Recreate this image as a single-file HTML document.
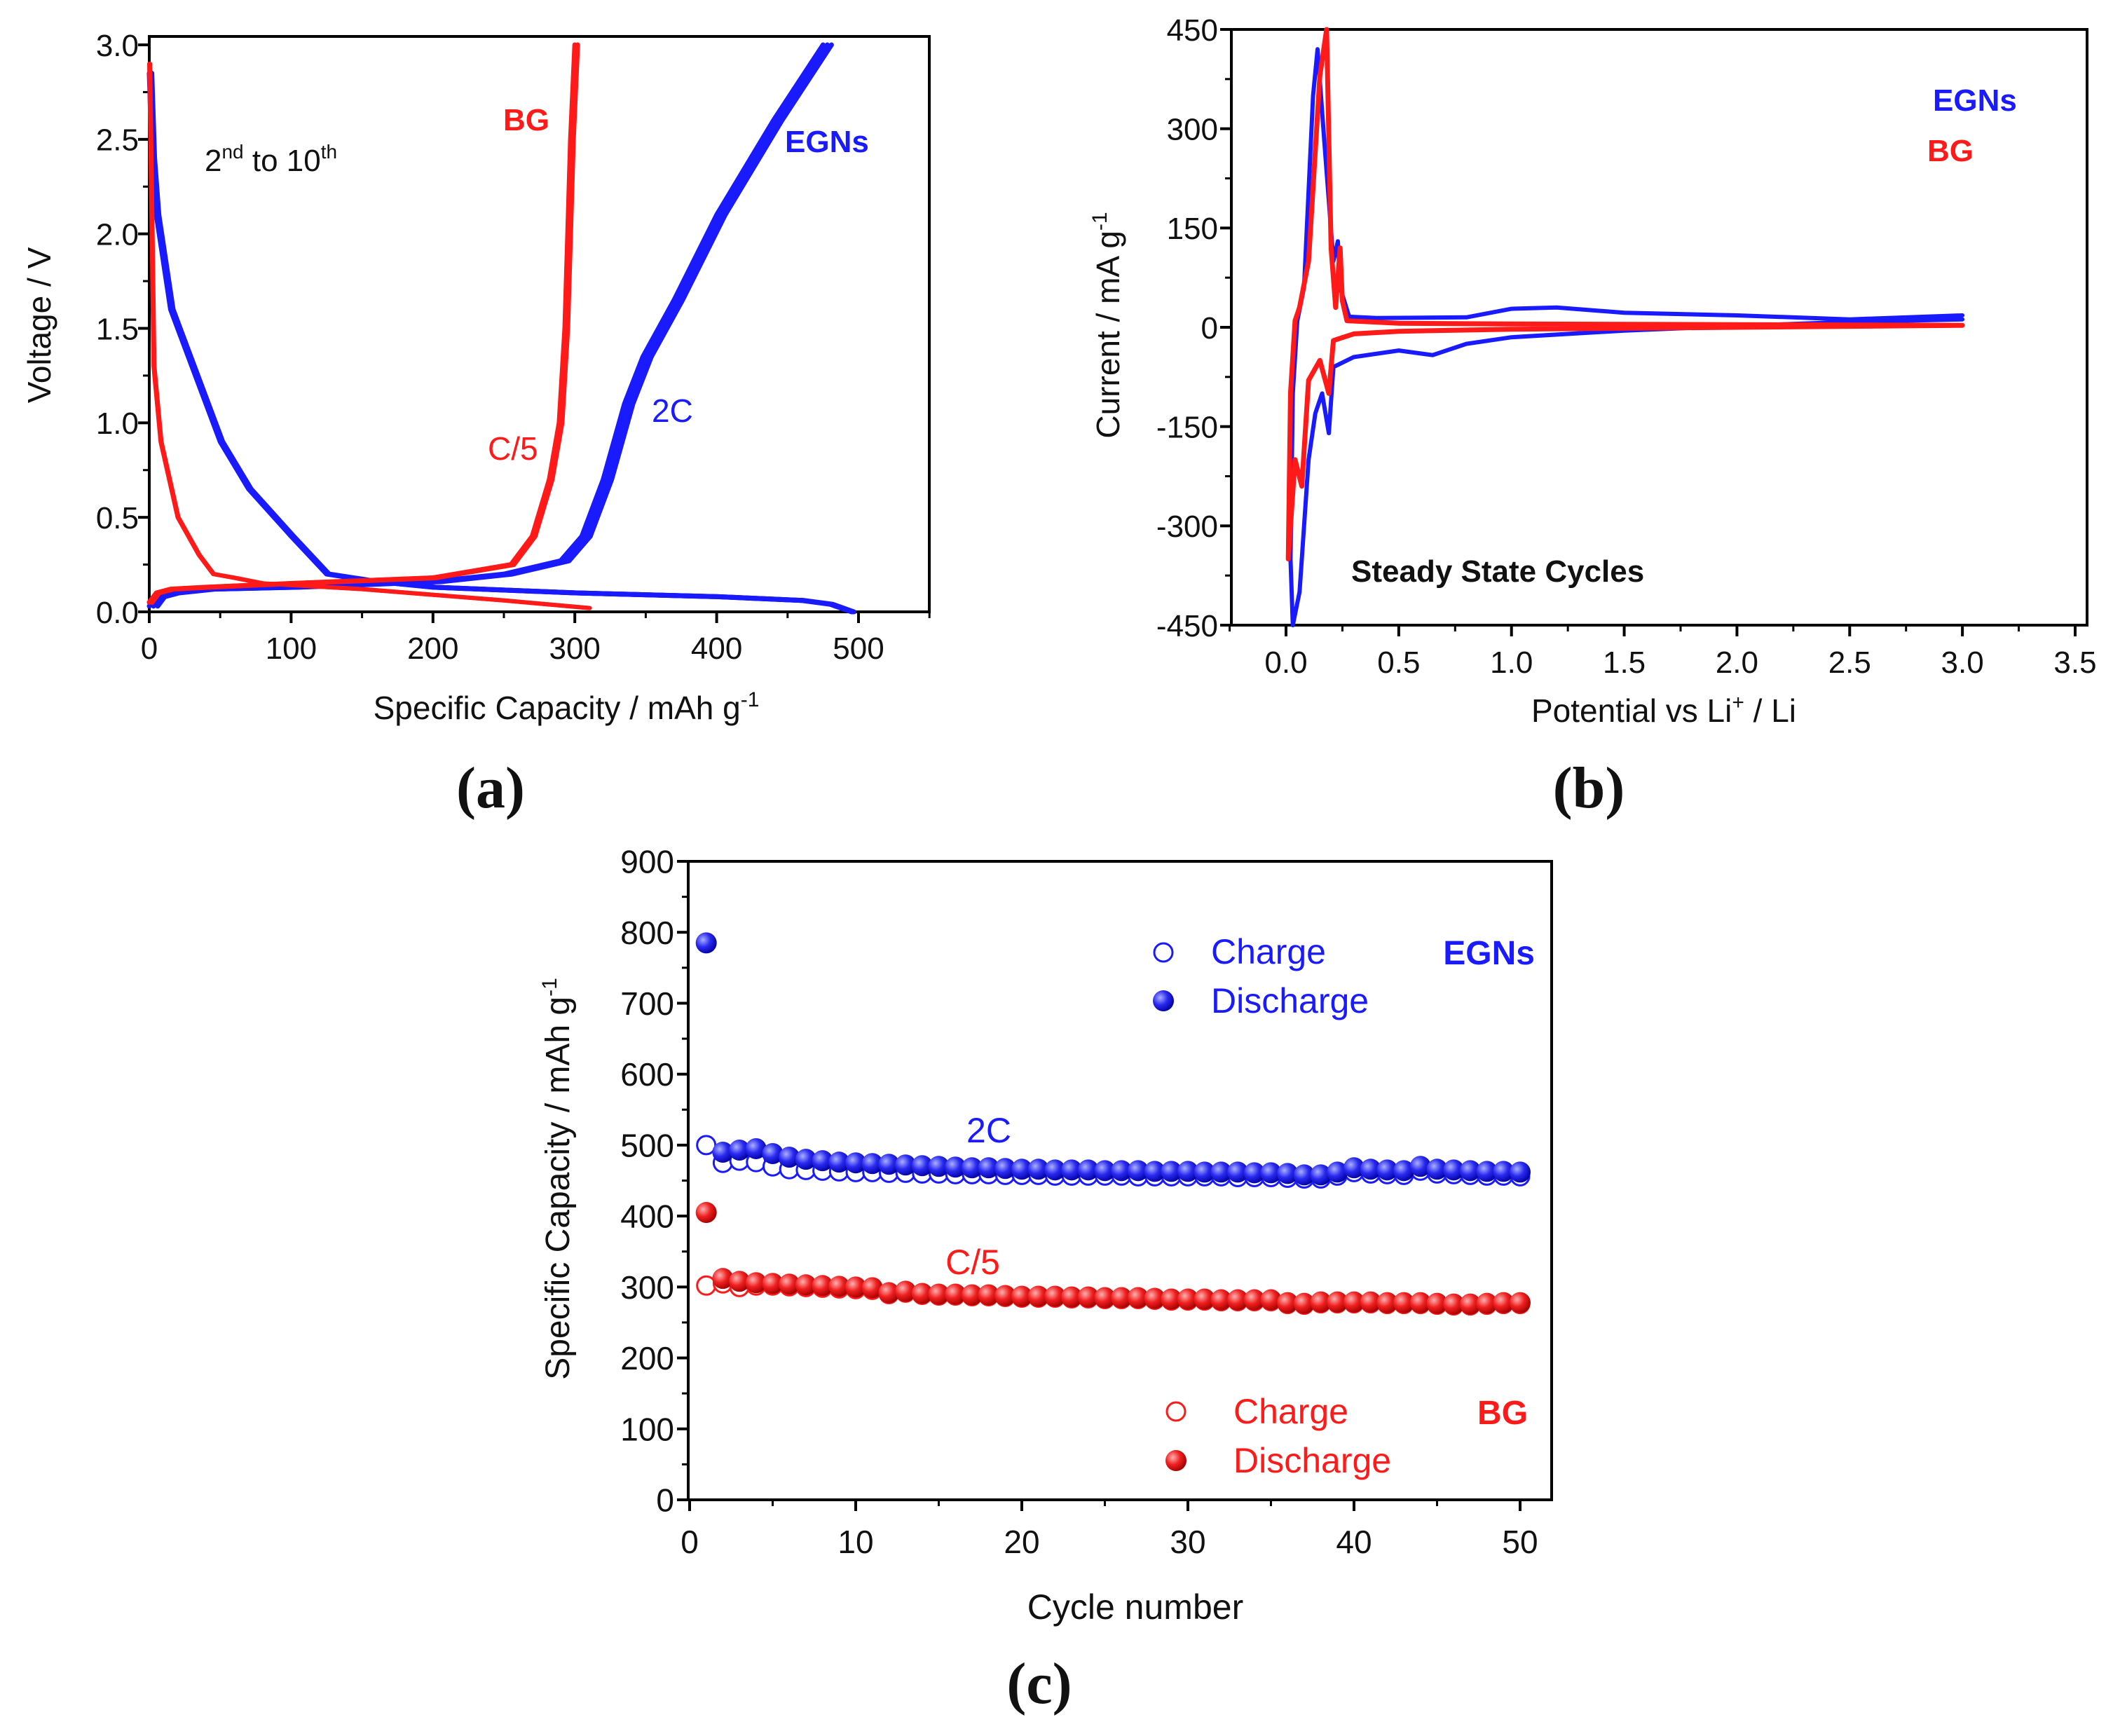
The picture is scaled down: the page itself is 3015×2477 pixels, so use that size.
<!DOCTYPE html>
<html><head><meta charset="utf-8">
<style>
html,body{margin:0;padding:0;background:#fff;}
svg{display:block;}
text{font-family:"Liberation Sans",sans-serif;}
</style></head>
<body>
<svg id="fig" width="3015" height="2477" viewBox="0 0 3015 2477" xmlns="http://www.w3.org/2000/svg">
<defs>
<radialGradient id="gb" cx="0.35" cy="0.35" r="0.7"><stop offset="0" stop-color="#aab0ff"/><stop offset="0.5" stop-color="#2a2af0"/><stop offset="1" stop-color="#0000a0"/></radialGradient>
<radialGradient id="gr" cx="0.35" cy="0.35" r="0.7"><stop offset="0" stop-color="#ffb0b0"/><stop offset="0.5" stop-color="#f02020"/><stop offset="1" stop-color="#a00000"/></radialGradient>
</defs>
<g id="pa"></g>
<g id="pb"></g>
<g id="pc"></g>
</svg>
<script>
// Panel A data (capacity mAh/g, voltage V)
const aBlueDisCap=[0,2,5,15,30,50,70,100,125,160,200,300,400,460,480,495];
const aBlueDisV=[2.85,2.4,2.1,1.6,1.3,0.9,0.65,0.4,0.2,0.16,0.13,0.1,0.08,0.06,0.04,0.0];
const aBlueChCap=[0,5,15,40,100,200,250,290,305,320,335,348,370,400,440,475];
const aBlueChV=[0.03,0.08,0.1,0.12,0.13,0.16,0.2,0.27,0.4,0.7,1.1,1.35,1.65,2.1,2.6,3.0];
const aRedDisCap=[0,1,3,8,20,35,45,60,80,150,200,250,310];
const aRedDisV=[2.9,2.4,1.3,0.9,0.5,0.3,0.2,0.18,0.15,0.12,0.09,0.06,0.02];
const aRedChCap=[0,5,15,40,100,200,255,270,282,289,293,295,297,300];
const aRedChV=[0.05,0.1,0.12,0.13,0.15,0.18,0.25,0.4,0.7,1.0,1.5,2.0,2.5,3.0];
const aXTicks=[0,100,200,300,400,500];
const aYTicks=[0.0,0.5,1.0,1.5,2.0,2.5,3.0];
// Panel B data (potential V, current mA/g)
const bBlueE=[3.0,2.5,2.0,1.5,1.2,1.0,0.8,0.4,0.28,0.24,0.23,0.21,0.17,0.14,0.12,0.08,0.05,0.03,0.02,0.03,0.06,0.1,0.13,0.16,0.19,0.21,0.3,0.5,0.65,0.8,1.0,1.5,2.0,2.5,3.0];
const bBlueI=[18,12,18,22,30,28,15,14,16,60,130,100,280,420,350,60,10,-100,-350,-450,-400,-200,-130,-100,-160,-60,-45,-35,-42,-25,-15,-5,2,8,12];
const bRedE=[3.0,2.0,1.0,0.5,0.27,0.25,0.24,0.22,0.2,0.18,0.15,0.1,0.06,0.04,0.02,0.01,0.04,0.07,0.1,0.15,0.19,0.21,0.3,0.5,1.0,2.0,3.0];
const bRedI=[3,4,5,6,10,40,120,30,120,450,380,100,30,10,-100,-350,-200,-240,-80,-50,-100,-20,-10,-6,-3,0,3];
const bXTicks=[0.0,0.5,1.0,1.5,2.0,2.5,3.0,3.5];
const bYTicks=[-450,-300,-150,0,150,300,450];
// Panel C data
const cCycles=Array.from({length:50},(_,i)=>i+1);
const cEgnDis=[785,490,493,495,488,483,480,478,476,475,474,473,472,471,470,469,468,468,467,466,466,465,465,465,464,464,464,463,463,463,462,462,462,461,461,460,458,458,462,468,466,465,464,470,466,465,464,463,463,462];
const cEgnCh=[500,475,478,476,470,466,465,464,463,462,462,461,461,460,460,459,459,459,458,458,458,457,457,457,457,457,456,456,456,456,456,456,455,455,455,454,453,453,457,462,460,459,458,464,460,459,458,457,457,456];
const cBgDis=[405,312,308,306,305,304,303,302,301,300,299,292,294,291,290,290,289,289,288,287,287,287,286,286,285,285,285,284,283,283,283,282,282,282,282,278,277,279,279,279,279,278,278,278,277,276,276,277,278,278];
const cBgCh=[302,305,300,302,302,301,300,299,298,297,296,290,292,289,288,288,287,287,286,285,285,285,284,284,283,283,283,282,281,281,281,280,280,280,280,276,275,277,277,277,277,276,276,276,275,274,274,275,276,276];
const cXTicks=[0,10,20,30,40,50];
const cYTicks=[0,100,200,300,400,500,600,700,800,900];

const NS="http://www.w3.org/2000/svg";
function mk(parent,tag,attrs,txt){const e=document.createElementNS(NS,tag);for(const k in attrs)e.setAttribute(k,attrs[k]);if(txt!==undefined)e.textContent=txt;parent.appendChild(e);return e;}
function lin(d0,d1,p0,p1){return v=>p0+(v-d0)*(p1-p0)/(d1-d0);}
const SERIF='font-family:"Liberation Serif",serif;font-weight:bold;';

function axes(g,box,sx,sy,xt,yt,xMinor,yMinor,xfmt,yfmt,fs,xLabY,yLabX){
  const fr=mk(g,'rect',{x:box.l,y:box.t,width:box.r-box.l,height:box.b-box.t,fill:'none',stroke:'#000','stroke-width':4});
  
  
  xt.forEach(v=>{const x=sx(v);
    const t=mk(g,'line',{x1:x,x2:x,y1:box.b,y2:box.b+16,stroke:'#000','stroke-width':4});
    
    
    const l=mk(g,'text',{x:x,y:xLabY,'font-size':fs,'text-anchor':'middle',fill:'#111'},xfmt(v));
    
    
  });
  xMinor.forEach(v=>{const x=sx(v);mk(g,'line',{x1:x,x2:x,y1:box.b,y2:box.b+9,stroke:'#000','stroke-width':3});});
  yt.forEach(v=>{const y=sy(v);
    const t=mk(g,'line',{x1:box.l-16,x2:box.l,y1:y,y2:y,stroke:'#000','stroke-width':4});
    
    
    const l=mk(g,'text',{x:yLabX,y:y+fs*0.36,'font-size':fs,'text-anchor':'end',fill:'#111'},yfmt(v));
    
    
  });
  yMinor.forEach(v=>{const y=sy(v);mk(g,'line',{x1:box.l-9,x2:box.l,y1:y,y2:y,stroke:'#000','stroke-width':3});});
}
function path(g,xs,ys,sx,sy,color,w,dx){let d='';xs.forEach((v,i)=>{d+=(i?'L':'M')+(sx(v)+(dx||0)).toFixed(1)+','+sy(ys[i]).toFixed(1);});
  return mk(g,'path',{d:d,fill:'none',stroke:color,'stroke-width':w,'stroke-linejoin':'round','stroke-linecap':'round'});}

// ---------- Panel A ----------
(function(){
  const g=document.getElementById('pa');
  const box={l:213,r:1326,t:52,b:873};
  const sx=lin(0,500,213,1225), sy=lin(0,3,873,64);
  axes(g,box,sx,sy,aXTicks,aYTicks,[50,150,250,350,450,550],[0.25,0.75,1.25,1.75,2.25,2.75],v=>v,v=>v.toFixed(1),44,940,198);
  [0,6,12].forEach(o=>{
    const p1=path(g,aBlueDisCap,aBlueDisV,sx,sy,'#1a1aff',7,o*0.3);
    
    
    const p2=path(g,aBlueChCap,aBlueChV,sx,sy,'#1a1aff',7,o);
    
    
  });
  [0,4].forEach(o=>{
    const p1=path(g,aRedDisCap,aRedDisV,sx,sy,'#ff1a1a',6,o*0.3);
    
    
    const p2=path(g,aRedChCap,aRedChV,sx,sy,'#ff1a1a',7,o);
    
    
  });
  let t;
  t=mk(g,'text',{x:0,y:0,'font-size':46,'text-anchor':'middle',transform:'translate(72,464) rotate(-90)',fill:'#111'},'Voltage / V');
  
  t=mk(g,'text',{x:808,y:1026,'font-size':46,'text-anchor':'middle',fill:'#111'});
  t.innerHTML='Specific Capacity / mAh g<tspan dy="-18" font-size="30">-1</tspan>';
  
  t=mk(g,'text',{x:292,y:244,'font-size':44,fill:'#111'});
  t.innerHTML='2<tspan dy="-18" font-size="28">nd</tspan><tspan dy="18"> to 10</tspan><tspan dy="-18" font-size="28">th</tspan>';
  
  t=mk(g,'text',{x:718,y:186,'font-size':44,'font-weight':'bold',fill:'#ff1a1a'},'BG');
  
  t=mk(g,'text',{x:1120,y:217,'font-size':44,'font-weight':'bold',fill:'#1a1aff'},'EGNs');
  
  t=mk(g,'text',{x:696,y:656,'font-size':46,fill:'#ff1a1a'},'C/5');
  
  t=mk(g,'text',{x:930,y:602,'font-size':46,fill:'#1a1aff'},'2C');
  
  t=mk(g,'text',{x:700,y:1152,'font-size':84,style:SERIF,'text-anchor':'middle',fill:'#111'},'(a)');
  
})();

// ---------- Panel B ----------
(function(){
  const g=document.getElementById('pb');
  const box={l:1757,r:2978,t:42,b:892};
  const sx=lin(0,3.5,1835,2961), sy=lin(-450,450,892,42);
  axes(g,box,sx,sy,bXTicks,bYTicks,[-0.25,0.25,0.75,1.25,1.75,2.25,2.75,3.25],[-375,-225,-75,75,225,375],v=>v.toFixed(1),v=>v,44,960,1738);
  let p=path(g,bBlueE,bBlueI,sx,sy,'#1a1aff',6);
  
  p=path(g,bRedE,bRedI,sx,sy,'#ff1a1a',7);
  
  let t;
  t=mk(g,'text',{x:0,y:0,'font-size':46,'text-anchor':'middle',transform:'translate(1597,464) rotate(-90)',fill:'#111'});
  t.innerHTML='Current / mA g<tspan dy="-18" font-size="30">-1</tspan>';
  
  t=mk(g,'text',{x:2374,y:1030,'font-size':46,'text-anchor':'middle',fill:'#111'});
  t.innerHTML='Potential vs Li<tspan dy="-18" font-size="30">+</tspan><tspan dy="18"> / Li</tspan>';
  
  t=mk(g,'text',{x:2758,y:158,'font-size':44,'font-weight':'bold',fill:'#1a1aff'},'EGNs');
  
  t=mk(g,'text',{x:2750,y:230,'font-size':44,'font-weight':'bold',fill:'#ff1a1a'},'BG');
  
  t=mk(g,'text',{x:1928,y:830,'font-size':44,'font-weight':'bold',fill:'#111'},'Steady State Cycles');
  
  t=mk(g,'text',{x:2267,y:1152,'font-size':84,style:SERIF,'text-anchor':'middle',fill:'#111'},'(b)');
  
})();

// ---------- Panel C ----------
(function(){
  const g=document.getElementById('pc');
  const box={l:982,r:2214,t:1229,b:2140};
  const sx=lin(0,50,984,2169), sy=lin(0,900,2140,1229);
  axes(g,box,sx,sy,cXTicks,cYTicks,[5,15,25,35,45],[50,150,250,350,450,550,650,750,850],v=>v,v=>v,46,2216,962);
  const R=15;
  cCycles.forEach((c,i)=>{
    let m=mk(g,'circle',{cx:sx(c),cy:sy(cEgnCh[i]),r:R-2,fill:'#fff',stroke:'#1a1aff','stroke-width':3});
    
    m=mk(g,'circle',{cx:sx(c),cy:sy(cBgCh[i]),r:R-2,fill:'#fff',stroke:'#ff1a1a','stroke-width':3});
    
  });
  cCycles.forEach((c,i)=>{
    let m=mk(g,'circle',{cx:sx(c),cy:sy(cEgnDis[i]),r:R,fill:'url(#gb)'});
    
    m=mk(g,'circle',{cx:sx(c),cy:sy(cBgDis[i]),r:R,fill:'url(#gr)'});
    
  });
  let t,m;
  m=mk(g,'circle',{cx:1660,cy:1359,r:13,fill:'#fff',stroke:'#1a1aff','stroke-width':3});
  
  m=mk(g,'circle',{cx:1660,cy:1428,r:15,fill:'url(#gb)'});
  
  t=mk(g,'text',{x:1728,y:1375,'font-size':50,fill:'#1a1aff'},'Charge');
  
  t=mk(g,'text',{x:1728,y:1445,'font-size':50,fill:'#1a1aff'},'Discharge');
  
  t=mk(g,'text',{x:2190,y:1376,'font-size':48,'font-weight':'bold','text-anchor':'end',fill:'#1a1aff'},'EGNs');
  
  m=mk(g,'circle',{cx:1678,cy:2014,r:13,fill:'#fff',stroke:'#ff1a1a','stroke-width':3});
  
  m=mk(g,'circle',{cx:1678,cy:2084,r:15,fill:'url(#gr)'});
  
  t=mk(g,'text',{x:1760,y:2031,'font-size':50,fill:'#ff1a1a'},'Charge');
  
  t=mk(g,'text',{x:1760,y:2101,'font-size':50,fill:'#ff1a1a'},'Discharge');
  
  t=mk(g,'text',{x:2180,y:2032,'font-size':48,'font-weight':'bold','text-anchor':'end',fill:'#ff1a1a'},'BG');
  
  t=mk(g,'text',{x:1411,y:1630,'font-size':50,'text-anchor':'middle',fill:'#1a1aff'},'2C');
  
  t=mk(g,'text',{x:1388,y:1818,'font-size':50,'text-anchor':'middle',fill:'#ff1a1a'},'C/5');
  
  t=mk(g,'text',{x:0,y:0,'font-size':48,'text-anchor':'middle',transform:'translate(812,1682) rotate(-90)',fill:'#111'});
  t.innerHTML='Specific Capacity / mAh g<tspan dy="-18" font-size="30">-1</tspan>';
  
  t=mk(g,'text',{x:1620,y:2310,'font-size':50,'text-anchor':'middle',fill:'#111'},'Cycle number');
  
  t=mk(g,'text',{x:1483,y:2430,'font-size':84,style:SERIF,'text-anchor':'middle',fill:'#111'},'(c)');
  
})();
</script>
</body></html>
